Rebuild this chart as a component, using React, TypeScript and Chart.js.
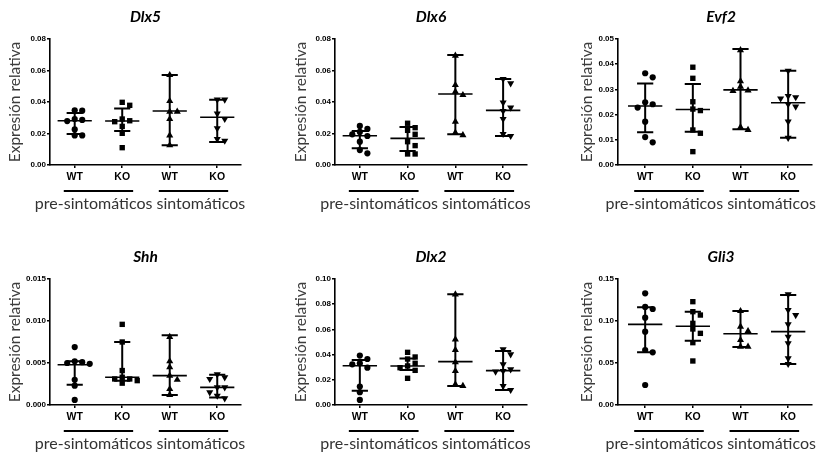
import React, { useEffect, useRef } from "react";
import { Chart, registerables } from "chart.js";

Chart.register(...registerables);

// ---------- labels ----------
const CATEGORY_LABELS = ["WT", "KO", "WT", "KO"];
const GROUP_LABELS = ["pre-sintomáticos", "sintomáticos"];
const Y_TITLE = "Expresión relativa";

// ---------- data ----------
// Dlx5
const dlx5WtPre = [0.0347, 0.0345, 0.0292, 0.0286, 0.0279, 0.0226, 0.0188, 0.0188];
const dlx5KoPre = [0.0398, 0.0379, 0.0292, 0.0281, 0.0275, 0.0245, 0.0201, 0.011];
const dlx5WtSint = [0.0571, 0.0406, 0.0339, 0.0339, 0.0292, 0.0188, 0.0125];
const dlx5KoSint = [0.0415, 0.0415, 0.0326, 0.0292, 0.0233, 0.0165, 0.0154];
const dlx5Median = [0.0281, 0.0279, 0.0343, 0.0303];
const dlx5Low = [0.0197, 0.0216, 0.0125, 0.0146];
const dlx5High = [0.033, 0.0358, 0.0571, 0.0415];

// Dlx6
const dlx6WtPre = [0.0248, 0.0229, 0.021, 0.0195, 0.0184, 0.0148, 0.0095, 0.0074];
const dlx6KoPre = [0.0265, 0.0237, 0.022, 0.0195, 0.0148, 0.0123, 0.007, 0.007];
const dlx6WtSint = [0.0694, 0.0508, 0.0466, 0.0444, 0.0275, 0.0205, 0.019];
const dlx6KoSint = [0.0546, 0.0518, 0.0396, 0.0364, 0.0343, 0.0292, 0.0197, 0.0184];
const dlx6Median = [0.0186, 0.0169, 0.0451, 0.0347];
const dlx6Low = [0.0106, 0.0089, 0.0195, 0.0184];
const dlx6High = [0.0216, 0.0241, 0.0698, 0.0546];

// Evf2
const evf2WtPre = [0.0364, 0.0348, 0.0249, 0.0241, 0.0228, 0.0172, 0.0111, 0.009];
const evf2KoPre = [0.0388, 0.0344, 0.0251, 0.0222, 0.0216, 0.0139, 0.0126, 0.0053];
const evf2WtSint = [0.0456, 0.0333, 0.0311, 0.0296, 0.0294, 0.015, 0.0139];
const evf2KoSint = [0.0374, 0.0274, 0.0269, 0.0264, 0.0241, 0.0232, 0.0172, 0.0108];
const evf2Median = [0.0234, 0.022, 0.0298, 0.0247];
const evf2Low = [0.013, 0.0132, 0.0142, 0.0108];
const evf2High = [0.0323, 0.0321, 0.046, 0.0374];

// Shh
const shhWtPre = [0.0069, 0.0052, 0.0051, 0.005, 0.0049, 0.003, 0.0023, 0.0006];
const shhKoPre = [0.0096, 0.0075, 0.0041, 0.0033, 0.0031, 0.0031, 0.0029, 0.0026];
const shhWtSint = [0.0081, 0.0052, 0.0045, 0.0035, 0.003, 0.0019, 0.0012];
const shhKoSint = [0.00365, 0.0033, 0.0031, 0.0021, 0.0021, 0.0015, 0.0011, 0.0008];
const shhMedian = [0.0048, 0.0033, 0.0035, 0.0021];
const shhLow = [0.0024, 0.0029, 0.0012, 0.0009];
const shhHigh = [0.0052, 0.0075, 0.0083, 0.0036];

// Dlx2
const dlx2WtPre = [0.0392, 0.0365, 0.0331, 0.0323, 0.0296, 0.0146, 0.0101, 0.004];
const dlx2KoPre = [0.0418, 0.0381, 0.0365, 0.0331, 0.031, 0.0296, 0.0275, 0.0212];
const dlx2WtSint = [0.0878, 0.0521, 0.0437, 0.0339, 0.027, 0.0164, 0.0151];
const dlx2KoSint = [0.0442, 0.0402, 0.0323, 0.0283, 0.027, 0.0265, 0.0151, 0.0119];
const dlx2Median = [0.0312, 0.031, 0.0344, 0.0273];
const dlx2Low = [0.0114, 0.0278, 0.0151, 0.0119];
const dlx2High = [0.0357, 0.037, 0.0878, 0.0429];

// Gli3
const gli3WtPre = [0.1329, 0.1167, 0.1143, 0.104, 0.0873, 0.0655, 0.0627, 0.0238];
const gli3KoPre = [0.123, 0.1111, 0.1071, 0.0972, 0.0905, 0.0853, 0.0742, 0.0524];
const gli3WtSint = [0.1119, 0.0933, 0.0881, 0.0774, 0.0694, 0.0694];
const gli3KoSint = [0.1317, 0.1131, 0.1071, 0.096, 0.0813, 0.0734, 0.0556, 0.0488];
const gli3Median = [0.096, 0.0937, 0.0849, 0.0873];
const gli3Low = [0.0627, 0.0766, 0.069, 0.0488];
const gli3High = [0.1163, 0.1111, 0.1119, 0.1309];

// axis ranges
const Y_MAX = [0.08, 0.08, 0.05, 0.015, 0.1, 0.15];
const Y_STEP = [0.02, 0.02, 0.01, 0.005, 0.02, 0.05];
const Y_DECIMALS = [2, 2, 2, 3, 2, 2];

// ---------- panel layout (positions / styles) ----------
type Layout = {
  left: number; top: number; width: number; height: number;
  axisLeft: number; axisRight: number; plotTop: number; plotBottom: number;
  yTitleX: number; xMin: number; titleDx: number;
};
const COLS = [
  { left: 0, width: 270, axisLeft: 50, axisRight: 241, yTitleX: 15, xMin: 0.48, titleDx: 0 },
  { left: 270, width: 280, axisLeft: 335, axisRight: 527, yTitleX: 300.5, xMin: 0.48, titleDx: 0 },
  { left: 540, width: 282, axisLeft: 618, axisRight: 812, yTitleX: 587, xMin: 0.43, titleDx: 6 },
];
const ROWS = [
  { top: 0, height: 225, plotTop: 39, plotBottom: 165 },
  { top: 230, height: 224, plotTop: 279, plotBottom: 405 },
];

const POINT_STYLES = ["circle", "rect", "triangle", "triangle"];
const POINT_ROT = [0, 0, 0, 180];
const POINT_RADIUS = [3.1, 3.8, 4.1, 4.1];
const SWARM_STEP = 0.158;
const SWARM_GAP_PX = 5.5;
const CAP_HALF = 0.17;
const MED_HALF = 0.36;
const UNDERLINE_HALF = 0.73;
const GROUP_TEXT_CENTER = 2.5 - 0.125;

type Spec = {
  title: string;
  groups: number[][];
  median: number[];
  low: number[];
  high: number[];
  yMax: number;
  yStep: number;
  decimals: number;
};

const SPECS: Spec[] = [
  { title: "Dlx5", groups: [dlx5WtPre, dlx5KoPre, dlx5WtSint, dlx5KoSint], median: dlx5Median, low: dlx5Low, high: dlx5High, yMax: Y_MAX[0], yStep: Y_STEP[0], decimals: Y_DECIMALS[0] },
  { title: "Dlx6", groups: [dlx6WtPre, dlx6KoPre, dlx6WtSint, dlx6KoSint], median: dlx6Median, low: dlx6Low, high: dlx6High, yMax: Y_MAX[1], yStep: Y_STEP[1], decimals: Y_DECIMALS[1] },
  { title: "Evf2", groups: [evf2WtPre, evf2KoPre, evf2WtSint, evf2KoSint], median: evf2Median, low: evf2Low, high: evf2High, yMax: Y_MAX[2], yStep: Y_STEP[2], decimals: Y_DECIMALS[2] },
  { title: "Shh", groups: [shhWtPre, shhKoPre, shhWtSint, shhKoSint], median: shhMedian, low: shhLow, high: shhHigh, yMax: Y_MAX[3], yStep: Y_STEP[3], decimals: Y_DECIMALS[3] },
  { title: "Dlx2", groups: [dlx2WtPre, dlx2KoPre, dlx2WtSint, dlx2KoSint], median: dlx2Median, low: dlx2Low, high: dlx2High, yMax: Y_MAX[4], yStep: Y_STEP[4], decimals: Y_DECIMALS[4] },
  { title: "Gli3", groups: [gli3WtPre, gli3KoPre, gli3WtSint, gli3KoSint], median: gli3Median, low: gli3Low, high: gli3High, yMax: Y_MAX[5], yStep: Y_STEP[5], decimals: Y_DECIMALS[5] },
];

function swarm(values: number[], group: number, yMax: number, plotH: number) {
  const thr = (SWARM_GAP_PX * yMax) / plotH;
  const order = values.map((_, i) => i).sort((a, b) => values[b] - values[a]);
  const placed: { k: number; v: number }[] = [];
  const out: { x: number; y: number }[] = new Array(values.length);
  for (const i of order) {
    const v = values[i];
    for (const k of [0, 1, -1, 2, -2, 3, -3]) {
      if (!placed.some((p) => p.k === k && Math.abs(p.v - v) < thr)) {
        placed.push({ k, v });
        out[i] = { x: group + k * SWARM_STEP, y: v };
        break;
      }
    }
  }
  return out;
}

const AXIS_FONT = "'Liberation Sans', Arial, sans-serif";
const TEXT_FONT = "Lato, 'Open Sans', sans-serif";

function Panel({ spec, layout }: { spec: Spec; layout: Layout }) {
  const ref = useRef<HTMLCanvasElement | null>(null);
  useEffect(() => {
    const canvas = ref.current;
    if (!canvas) return;
    const L = layout;
    const plotH = L.plotBottom - L.plotTop;
    const decor = {
      id: "decor" + spec.title,
      beforeDatasetsDraw(chart: any) {
        const { ctx } = chart;
        const xs = chart.scales.x;
        const ys = chart.scales.y;
        ctx.save();
        ctx.strokeStyle = "#000";
        ctx.lineCap = "butt";
        for (let i = 0; i < 4; i++) {
          const cx = xs.getPixelForValue(i + 1);
          const cap = xs.getPixelForValue(i + 1 + CAP_HALF) - cx;
          const med = xs.getPixelForValue(i + 1 + MED_HALF) - cx;
          const yl = ys.getPixelForValue(spec.low[i]);
          const yh = ys.getPixelForValue(spec.high[i]);
          const ym = ys.getPixelForValue(spec.median[i]);
          ctx.lineWidth = 2;
          ctx.beginPath();
          ctx.moveTo(cx, yl);
          ctx.lineTo(cx, yh);
          ctx.moveTo(cx - cap, yl);
          ctx.lineTo(cx + cap, yl);
          ctx.moveTo(cx - cap, yh);
          ctx.lineTo(cx + cap, yh);
          ctx.stroke();
          ctx.lineWidth = 1.6;
          ctx.beginPath();
          ctx.moveTo(cx - med, ym);
          ctx.lineTo(cx + med, ym);
          ctx.stroke();
        }
        ctx.restore();
      },
      afterDraw(chart: any) {
        const { ctx, chartArea } = chart;
        const xs = chart.scales.x;
        ctx.save();
        // title
        ctx.fillStyle = "#000";
        ctx.font = `italic bold 15.5px ${TEXT_FONT}`;
        ctx.textAlign = "center";
        ctx.textBaseline = "middle";
        ctx.fillText(spec.title, (chartArea.left + chartArea.right) / 2 + L.titleDx, chartArea.top - 22);
        // group underlines
        ctx.strokeStyle = "#000";
        ctx.lineWidth = 2;
        const yU = chartArea.bottom + 26;
        [1.5, 3.5].forEach((c) => {
          ctx.beginPath();
          ctx.moveTo(xs.getPixelForValue(c - UNDERLINE_HALF), yU);
          ctx.lineTo(xs.getPixelForValue(c + UNDERLINE_HALF), yU);
          ctx.stroke();
        });
        // group labels, set next to each other as one line
        ctx.fillStyle = "#333";
        ctx.font = `16px ${TEXT_FONT}`;
        const yG = chartArea.bottom + 39;
        const w1 = ctx.measureText(GROUP_LABELS[0]).width;
        const w2 = ctx.measureText(GROUP_LABELS[1]).width;
        const sp = ctx.measureText(" ").width;
        const total = w1 + sp + w2;
        const x0 = xs.getPixelForValue(GROUP_TEXT_CENTER) - total / 2;
        ctx.textAlign = "left";
        ctx.fillText(GROUP_LABELS[0], x0, yG);
        ctx.fillText(GROUP_LABELS[1], x0 + w1 + sp, yG);
        ctx.restore();
      },
    };

    const datasets = spec.groups.map((vals, g) => ({
      label: CATEGORY_LABELS[g],
      data: swarm(vals, g + 1, spec.yMax, plotH),
      pointStyle: POINT_STYLES[g],
      rotation: POINT_ROT[g],
      pointRadius: POINT_RADIUS[g],
      pointHoverRadius: POINT_RADIUS[g],
      backgroundColor: "#000",
      borderColor: "#000",
      borderWidth: 0,
      showLine: false,
    }));

    const chart = new Chart(canvas, {
      type: "scatter",
      data: { datasets },
      plugins: [decor],
      options: {
        responsive: false,
        maintainAspectRatio: false,
        animation: false,
        events: [],
        layout: {
          padding: {
            left: 0,
            top: L.plotTop - L.top,
            right: L.width - (L.axisRight - L.left),
            bottom: 0,
          },
        },
        plugins: {
          legend: { display: false },
          tooltip: { enabled: false },
          title: { display: false },
        },
        scales: {
          x: {
            type: "linear",
            min: L.xMin,
            max: 4.5,
            afterBuildTicks: (s: any) => {
              s.ticks = [1, 2, 3, 4].map((v) => ({ value: v }));
            },
            afterFit: (s: any) => {
              s.height = L.height - (L.plotBottom - L.top);
            },
            grid: {
              display: true,
              drawOnChartArea: false,
              drawTicks: true,
              tickLength: 3,
              color: "#000",
              lineWidth: 1.5,
            },
            border: { display: true, color: "#000", width: 1.6 },
            ticks: {
              autoSkip: false,
              maxRotation: 0,
              padding: 3,
              color: "#000",
              font: { family: AXIS_FONT, weight: "bold", size: 10.5 },
              callback: (v: any) => CATEGORY_LABELS[Math.round(v) - 1] ?? "",
            },
          },
          y: {
            type: "linear",
            min: 0,
            max: spec.yMax,
            afterFit: (s: any) => {
              s.width = L.axisLeft - L.left;
            },
            grid: {
              display: true,
              drawOnChartArea: false,
              drawTicks: true,
              tickLength: 3,
              color: "#000",
              lineWidth: 1.5,
            },
            border: { display: true, color: "#000", width: 1.6 },
            ticks: {
              stepSize: spec.yStep,
              padding: 1,
              color: "#000",
              font: { family: AXIS_FONT, weight: "bold", size: 8 },
              callback: (v: any) => Number(v).toFixed(spec.decimals),
            },
            title: {
              display: true,
              text: Y_TITLE,
              color: "#3c3c3c",
              font: { family: TEXT_FONT, size: 15.5, lineHeight: 1.2 },
              padding: { top: L.yTitleX - L.left - 9.3, bottom: 0 },
            },
          },
        },
      } as any,
    });
    return () => chart.destroy();
  }, [spec, layout]);

  return (
    <canvas
      ref={ref}
      width={layout.width}
      height={layout.height}
      style={{
        position: "absolute",
        left: layout.left,
        top: layout.top,
        width: layout.width,
        height: layout.height,
      }}
    />
  );
}

const LAYOUTS: Layout[] = [0, 1, 2, 3, 4, 5].map((i) => {
  const c = COLS[i % 3];
  const r = ROWS[Math.floor(i / 3)];
  return { ...c, ...r } as Layout;
});

export default function App() {
  return (
    <div
      style={{
        position: "absolute",
        left: 0,
        top: 0,
        width: 822,
        height: 454,
        background: "#fff",
        overflow: "hidden",
      }}
    >
      {SPECS.map((s, i) => (
        <Panel key={s.title} spec={s} layout={LAYOUTS[i]} />
      ))}
    </div>
  );
}
